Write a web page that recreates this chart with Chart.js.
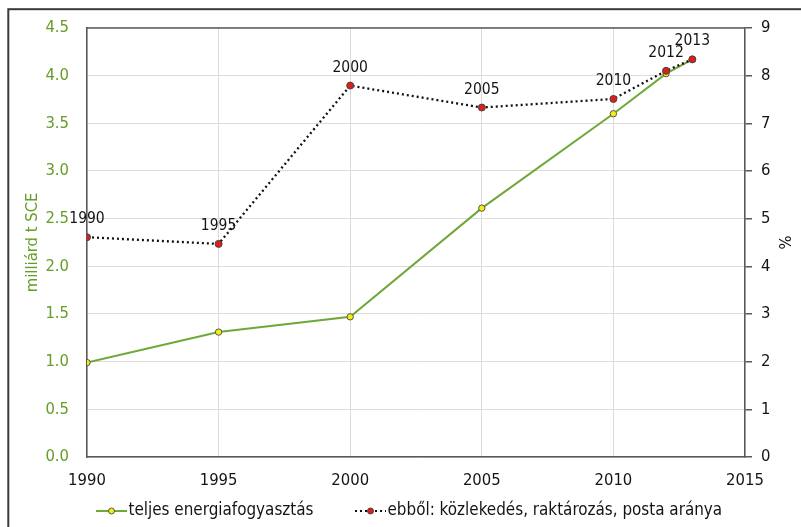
<!DOCTYPE html>
<html>
<head>
<meta charset="utf-8">
<style>
  html, body { margin: 0; padding: 0; background: #ffffff; }
  #wrap { position: relative; width: 801px; height: 527px; }
</style>
<script src="https://cdn.jsdelivr.net/npm/chart.js@4/dist/chart.umd.min.js"></script>
</head>
<body>
<div id="wrap"><canvas id="c" width="801" height="527"></canvas></div>
<script>
// Years of observation
const years = [1990, 1995, 2000, 2005, 2010, 2012, 2013];
// Total energy consumption, billion t SCE (left axis)
const totalEnergy = [0.99, 1.31, 1.47, 2.61, 3.60, 4.02, 4.17];
// Share of transport, storage and post, % (right axis)
const transportShare = [4.61, 4.47, 7.79, 7.33, 7.51, 8.10, 8.34];
// Point labels shown above the share series
const pointLabels = ['1990', '1995', '2000', '2005', '2010', '2012', '2013'];

const seriesNames = ['teljes energiafogyasztás', 'ebből: közlekedés, raktározás, posta aránya'];
const leftTitle = 'milliárd t SCE';
const rightTitle = '%';

const FONT = '"DejaVu Sans Condensed", "DejaVu Sans", Verdana, sans-serif';
const GREEN_TEXT = '#669c2a';
const GREEN_LINE = '#6fa83a';
const YELLOW = '#f2ef10';
const RED = '#e41b1b';
const AXIS = '#595959';
const GRID = '#dcdcdc';
const TEXT = '#141414';

const energyPts = years.map((y, i) => ({ x: y, y: totalEnergy[i] }));
const sharePts = years.map((y, i) => ({ x: y, y: transportShare[i] }));

const decorations = {
  id: 'decorations',
  afterDraw(chart) {
    const ctx = chart.ctx;
    const area = chart.chartArea;
    ctx.save();

    // outer frame
    ctx.strokeStyle = '#3a3a3a';
    ctx.lineWidth = 2;
    ctx.strokeRect(8.3, 9.2, 1000, 1000);

    // top edge of the plot area
    ctx.strokeStyle = AXIS;
    ctx.lineWidth = 1.5;
    ctx.beginPath();
    ctx.moveTo(area.left, area.top);
    ctx.lineTo(area.right, area.top);
    ctx.stroke();

    // year labels above the share points
    const meta = chart.getDatasetMeta(1);
    ctx.font = '15.5px ' + FONT;
    ctx.fillStyle = TEXT;
    ctx.textAlign = 'center';
    ctx.textBaseline = 'middle';
    meta.data.forEach((pt, i) => {
      ctx.fillText(pointLabels[i], pt.x, pt.y - 18);
    });

    // legend
    const ly = 511;
    ctx.font = '16.9px ' + FONT;
    ctx.textAlign = 'left';
    ctx.textBaseline = 'middle';

    ctx.strokeStyle = GREEN_LINE;
    ctx.lineWidth = 2;
    ctx.beginPath();
    ctx.moveTo(96, ly);
    ctx.lineTo(127, ly);
    ctx.stroke();
    ctx.beginPath();
    ctx.arc(111.5, ly, 3, 0, Math.PI * 2);
    ctx.fillStyle = YELLOW;
    ctx.fill();
    ctx.lineWidth = 1;
    ctx.strokeStyle = '#555';
    ctx.stroke();
    ctx.fillStyle = TEXT;
    ctx.fillText(seriesNames[0], 128.5, ly);

    ctx.strokeStyle = '#111';
    ctx.lineWidth = 2;
    ctx.setLineDash([2, 3]);
    ctx.beginPath();
    ctx.moveTo(355, ly);
    ctx.lineTo(386, ly);
    ctx.stroke();
    ctx.setLineDash([]);
    ctx.beginPath();
    ctx.arc(370.5, ly, 3, 0, Math.PI * 2);
    ctx.fillStyle = RED;
    ctx.fill();
    ctx.lineWidth = 1;
    ctx.strokeStyle = '#444';
    ctx.stroke();
    ctx.fillStyle = TEXT;
    ctx.fillText(seriesNames[1], 387.5, ly);

    ctx.restore();
  }
};

new Chart(document.getElementById('c'), {
  type: 'line',
  data: {
    datasets: [
      {
        label: seriesNames[0],
        data: energyPts,
        yAxisID: 'y',
        order: 2,
        borderColor: GREEN_LINE,
        borderWidth: 2,
        pointRadius: 3.2,
        pointBackgroundColor: YELLOW,
        pointBorderColor: '#555',
        pointBorderWidth: 1,
        tension: 0,
        fill: false
      },
      {
        label: seriesNames[1],
        data: sharePts,
        yAxisID: 'y1',
        order: 1,
        borderColor: '#111',
        borderWidth: 2.3,
        borderDash: [2, 3],
        pointRadius: 3.5,
        pointBackgroundColor: RED,
        pointBorderColor: '#444',
        pointBorderWidth: 1,
        tension: 0,
        fill: false
      }
    ]
  },
  options: {
    responsive: false,
    animation: false,
    devicePixelRatio: 1,
    layout: { padding: { top: 25, left: 0, right: 0, bottom: 0 } },
    plugins: {
      legend: { display: false },
      tooltip: { enabled: false }
    },
    scales: {
      x: {
        type: 'linear',
        position: 'bottom',
        min: 1990,
        max: 2015,
        afterFit(s) { s.height = 70; },
        grid: { color: GRID, drawTicks: false, lineWidth: 1 },
        border: { color: AXIS, width: 1.5 },
        ticks: {
          stepSize: 5,
          padding: 14,
          color: TEXT,
          font: { family: FONT, size: 16.5 },
          maxRotation: 0,
          callback: v => String(v)
        }
      },
      y: {
        position: 'left',
        min: 0,
        max: 4.5,
        afterFit(s) { s.width = 87; },
        grid: { color: GRID, drawTicks: false, lineWidth: 1 },
        border: { color: AXIS, width: 1.5 },
        ticks: {
          stepSize: 0.5,
          padding: 18,
          color: GREEN_TEXT,
          font: { family: FONT, size: 16.5 },
          callback: v => Number(v).toFixed(1)
        },
        title: {
          display: true,
          text: leftTitle,
          color: GREEN_TEXT,
          font: { family: FONT, size: 16.5 },
          padding: { top: 23, bottom: 0 }
        }
      },
      y1: {
        position: 'right',
        min: 0,
        max: 9,
        afterFit(s) { s.width = 56; },
        grid: { drawOnChartArea: false, drawTicks: true, tickLength: 7, color: AXIS, lineWidth: 1.5 },
        border: { color: AXIS, width: 1.5 },
        ticks: {
          stepSize: 1,
          padding: 9,
          color: TEXT,
          font: { family: FONT, size: 16.5 }
        },
        title: {
          display: true,
          text: rightTitle,
          color: TEXT,
          font: { family: FONT, size: 16.5 },
          padding: { top: 8, bottom: 0 }
        }
      }
    }
  },
  plugins: [decorations]
});
</script>
</body>
</html>
